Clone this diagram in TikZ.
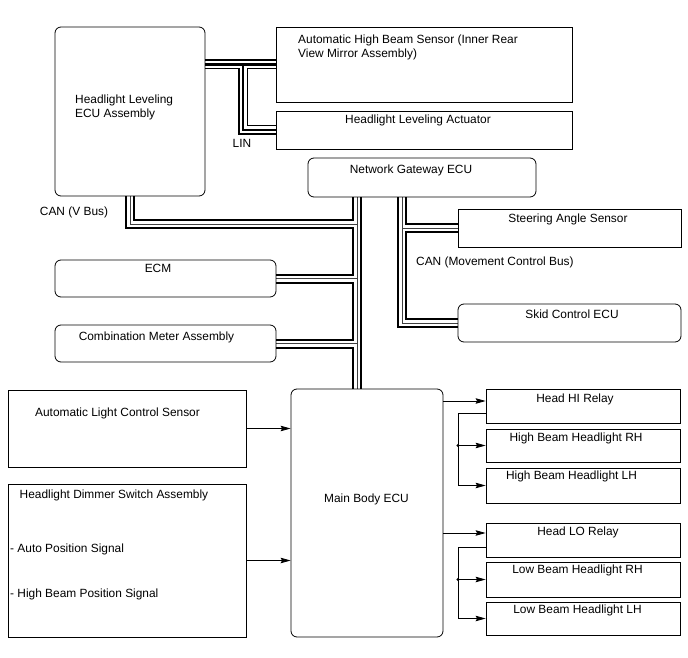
\documentclass[tikz,border=0pt]{standalone}
\usepackage{fontspec}
\setmainfont{Liberation Sans}
\usetikzlibrary{arrows.meta,backgrounds}

\begin{document}
\begin{tikzpicture}[x=1pt,y=-1pt,
  box/.style={draw,line width=0.8pt,inner sep=0pt},
  rbox/.style={box,rounded corners=6pt},
  txt/.style={inner sep=0pt,anchor=base,font=\fontsize{11.9}{14}\selectfont},
  txtl/.style={txt,anchor=base west},
  wire/.style={line width=0.8pt},
  sig/.style={wire,-{Stealth[length=10pt,width=5.5pt,inset=1.5pt]}},
  canout/.style={line width=10pt},
  canin/.style={line width=6pt,white},
  canmid/.style={line width=0.9pt,black!75},
  linout/.style={line width=10pt},
  linin/.style={line width=7pt,white},
  linmid/.style={line width=2.6pt}]

\useasboundingbox (0,0) rectangle (688,658);

% --- BOX IN ALTO (LIN) ---
\node[rbox,minimum width=150pt,minimum height=169pt] (hlecu) at (130,111.5) {};
\node[box,minimum width=296pt,minimum height=75pt] (ahbs) at (424,64.5) {};
\node[box,minimum width=296pt,minimum height=38pt] (act) at (424,130) {};

\node[txtl] (t-hlecu1) at (75,104) {Headlight Leveling};
\node[txtl] (t-hlecu2) at (75,118) {ECU Assembly};
\node[txtl] (t-ahbs1) at (298,44) {Automatic High Beam Sensor (Inner Rear};
\node[txtl] (t-ahbs2) at (298,58) {View Mirror Assembly)};
\node[txt] (t-act) at (418,124) {Headlight Leveling Actuator};
\node[txt] (t-lin) at (242,147) {LIN};

% --- GATEWAY E CAN ---
\node[rbox,minimum width=228pt,minimum height=39pt] (gw) at (422,177.5) {};
\node[box,minimum width=223pt,minimum height=38pt] (steer) at (569.5,228) {};
\node[rbox,minimum width=223pt,minimum height=38pt] (skid) at (569.5,323) {};
\node[rbox,minimum width=221pt,minimum height=37pt] (ecm) at (165.5,278.5) {};
\node[rbox,minimum width=221pt,minimum height=37pt] (combo) at (165.5,343.5) {};

\node[txt] (t-gw) at (411,173) {Network Gateway ECU};
\node[txt] (t-vbus) at (74,215) {CAN (V Bus)};
\node[txt] (t-steer) at (568,222) {Steering Angle Sensor};
\node[txtl] (t-mbus) at (416,265) {CAN (Movement Control Bus)};
\node[txt] (t-ecm) at (158,272) {ECM};
\node[txt] (t-skid) at (572,318) {Skid Control ECU};
\node[txt] (t-combo) at (156.5,340) {Combination Meter Assembly};

% --- MAIN BODY ECU E INGRESSI ---
\node[box,minimum width=238pt,minimum height=77pt] (alcs) at (127,428.5) {};
\node[box,minimum width=238pt,minimum height=153pt] (dimmer) at (127,560.5) {};
\node[rbox,minimum width=152pt,minimum height=248pt] (mbecu) at (367,513) {};

\node[txt] (t-alcs) at (117.5,416) {Automatic Light Control Sensor};
\node[txtl] (t-dim1) at (19.5,498.5) {Headlight Dimmer Switch Assembly};
\node[txtl] (t-dim2) at (10,552.5) {- Auto Position Signal};
\node[txtl] (t-dim3) at (10,597) {- High Beam Position Signal};
\node[txt] (t-mb) at (366.5,502.5) {Main Body ECU};

% --- RELE' E FARI ---
\foreach \n/\y/\h in {hhi/406/34,hbrh/445.5/33,hblh/485.5/35,hlo/540/34,lbrh/579.5/35,lblh/618.5/33}
  \node[box,minimum width=194pt,minimum height=\h pt] (\n) at (583,\y) {};

\node[txt] (t-hhi) at (575,402) {Head HI Relay};
\node[txt] (t-hbrh) at (576,441) {High Beam Headlight RH};
\node[txt] (t-hblh) at (571.5,479) {High Beam Headlight LH};
\node[txt] (t-hlo) at (578,535) {Head LO Relay};
\node[txt] (t-lbrh) at (577.5,573) {Low Beam Headlight RH};
\node[txt] (t-lblh) at (577.5,613) {Low Beam Headlight LH};

% --- BUS ---
\coordinate (vbus) at (357,224);
\coordinate (mbus) at (402,323);
\coordinate (lin) at (243,64.5);

\begin{scope}[on background layer]
\foreach \s in {canout,canin,canmid} {
  \draw[\s] (hlecu.south) |- (vbus) -- (vbus |- gw.south);
  \draw[\s] (vbus |- gw.south) -- (vbus |- mbecu.north);
  \draw[\s] (ecm.east) -- (ecm.east -| vbus);
  \draw[\s] (combo.east) -- (combo.east -| vbus);
  \draw[\s] (mbus |- gw.south) |- (skid.west);
  \draw[\s] (steer.west) -- (steer.west -| mbus);
}
\foreach \s in {linout,linin,linmid} {
  \draw[\s] (hlecu.east |- ahbs.west) -- (ahbs.west);
  \draw[\s] (lin) |- (act.west);
}
\end{scope}

% --- SEGNALI ---
\draw[sig] (alcs.east) -- (alcs.east -| mbecu.west);
\draw[sig] (dimmer.east) -- (dimmer.east -| mbecu.west);

\coordinate (hiin) at ([yshift=5pt]hhi.west);
\coordinate (hiout) at ([yshift=-7pt]hhi.west);
\coordinate (hibr) at (458,413);
\draw[sig] (mbecu.east |- hiin) -- (hiin);
\draw[wire] (hiout) -- (hibr) -- (hibr |- hbrh.west);
\draw[sig] (hibr |- hbrh.west) -- (hbrh.west);
\draw[sig] (hibr) |- (hblh.west);
\fill (hibr |- hbrh.west) circle (1.6pt);

\coordinate (loin) at ([yshift=7pt]hlo.west);
\coordinate (loout) at ([yshift=-7pt]hlo.west);
\coordinate (lobr) at (458,547);
\draw[sig] (mbecu.east |- loin) -- (loin);
\draw[wire] (loout) -- (lobr) -- (lobr |- lbrh.west);
\draw[sig] (lobr |- lbrh.west) -- (lbrh.west);
\draw[sig] (lobr) |- (lblh.west);
\fill (lobr |- lbrh.west) circle (1.6pt);

\end{tikzpicture}
\end{document}
